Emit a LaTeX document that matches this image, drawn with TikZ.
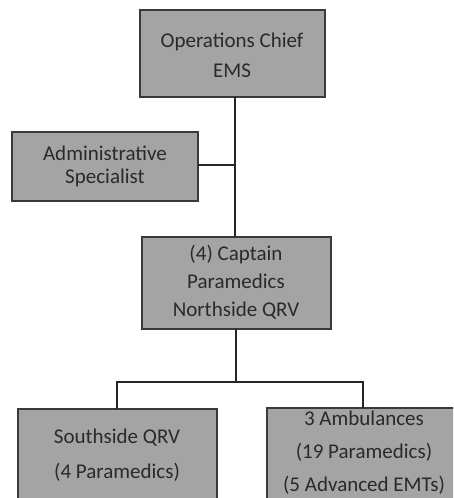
\documentclass[tikz,border=0pt]{standalone}
\usepackage{fontspec}
\setmainfont{Carlito}
\definecolor{boxfill}{HTML}{A4A4A4}
\definecolor{boxline}{HTML}{3A3A3A}
\definecolor{inktext}{HTML}{2A2A2A}
\tikzset{
  x=1pt, y=-1pt,
  unit/.style={draw=boxline, line width=1.2pt, fill=boxfill},
  caption/.style={text=inktext, align=center, font=\fontsize{21}{30}\selectfont, inner sep=0pt},
  link/.style={draw=black!85, line width=1.6pt}
}
\begin{document}
\begin{tikzpicture}
\useasboundingbox (0,0) rectangle (453,498);
\clip (0,0) rectangle (453,498);

% boxes
\draw[unit] (140,10) rectangle (325,97);
\coordinate (chiefS) at (235,97);
\draw[unit] (12,132) rectangle (198,201);
\coordinate (adminE) at (198,165);
\draw[unit] (142,237) rectangle (331,329);
\coordinate (captN) at (235,237);
\coordinate (captS) at (236,329);
\draw[unit] (18,409) rectangle (217,520);
\coordinate (southN) at (117,409);
\draw[unit] (267,408) rectangle (460,520);
\coordinate (ambN) at (363,408);

% labels
\node[caption] (chief) at (232,55) {Operations Chief\\EMS};
\node[caption, font=\fontsize{21}{23}\selectfont] (admin) at (105,166) {Administrative\\Specialist};
\node[caption, font=\fontsize{21}{28}\selectfont] (capt) at (236,282) {(4) Captain\\Paramedics\\Northside QRV};
\node[caption, font=\fontsize{21}{35}\selectfont] (south) at (117,455) {Southside QRV\\(4 Paramedics)};
\node[caption, font=\fontsize{21}{33}\selectfont] (amb) at (364,453) {3 Ambulances\\(19 Paramedics)\\(5 Advanced EMTs)};

% connectors
\coordinate (split) at (236,382);
\draw[link] (chiefS) -- (captN);
\draw[link] (adminE) -- (235,165);
\draw[link] (captS) -- (split);
\draw[link] (southN) |- (split) -| (ambN);
\end{tikzpicture}
\end{document}
